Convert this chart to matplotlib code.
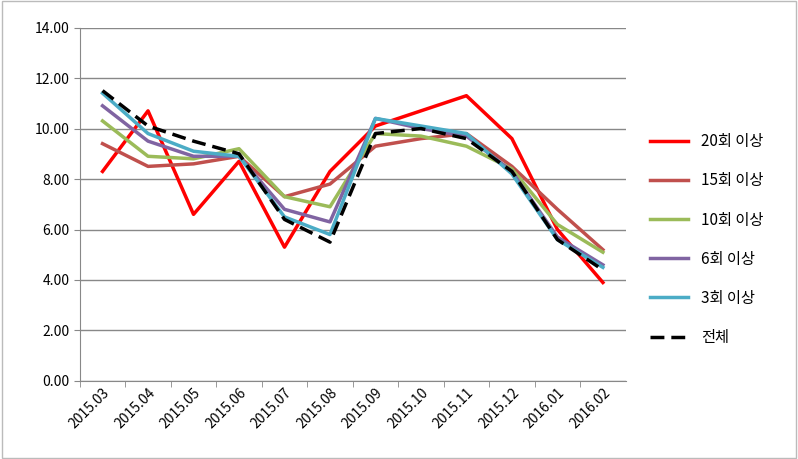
import matplotlib.pyplot as plt

plt.rcParams['font.family'] = ['Noto Sans CJK KR', 'DejaVu Sans']

months = ['2015.03', '2015.04', '2015.05', '2015.06', '2015.07', '2015.08',
          '2015.09', '2015.10', '2015.11', '2015.12', '2016.01', '2016.02']
s20 = [8.3, 10.7, 6.6, 8.7, 5.3, 8.3, 10.1, 10.7, 11.3, 9.6, 6.0, 3.9]
s15 = [9.4, 8.5, 8.6, 8.9, 7.3, 7.8, 9.3, 9.6, 9.8, 8.5, 6.8, 5.2]
s10 = [10.3, 8.9, 8.8, 9.2, 7.3, 6.9, 9.8, 9.7, 9.3, 8.4, 6.2, 5.1]
s6 = [10.9, 9.5, 8.9, 8.9, 6.8, 6.3, 10.4, 10.0, 9.7, 8.3, 5.7, 4.6]
s3 = [11.4, 9.8, 9.1, 8.9, 6.5, 5.8, 10.4, 10.1, 9.8, 8.2, 5.6, 4.5]
total = [11.5, 10.1, 9.5, 9.0, 6.4, 5.5, 9.8, 10.0, 9.6, 8.3, 5.6, 4.4]

fig = plt.figure(figsize=(7.98, 4.59), dpi=100)
ax = fig.add_axes([0.1, 0.17, 0.684, 0.77])

x = range(len(months))
ax.plot(x, s20, color='#ff0000', lw=2.5, label='20회 이상')
ax.plot(x, s15, color='#c0504d', lw=2.5, label='15회 이상')
ax.plot(x, s10, color='#9bbb59', lw=2.5, label='10회 이상')
ax.plot(x, s6, color='#8064a2', lw=2.5, label='6회 이상')
ax.plot(x, s3, color='#4bacc6', lw=2.5, label='3회 이상')
ax.plot(x, total, color='black', lw=2.5, ls=(0, (4, 2)), label='전체')

ax.set_xlim(-0.5, len(months) - 0.5)
ax.set_ylim(0, 14)
ax.set_yticks(range(0, 15, 2))
ax.set_yticklabels([f'{v:.2f}' for v in range(0, 15, 2)], fontsize=10)
ax.set_xticks([i - 0.5 for i in x], minor=True)
ax.set_xticks(list(x))
ax.set_xticklabels(months, rotation=45, ha='right', rotation_mode='anchor', fontsize=10)
ax.tick_params(axis='x', which='major', length=0)
ax.tick_params(axis='x', which='minor', length=4, color='#888888')
ax.tick_params(axis='y', length=4, color='#888888')
ax.grid(axis='y', color='#888888', lw=1)
ax.set_axisbelow(True)
for side in ['top', 'right']:
    ax.spines[side].set_visible(False)
for side in ['left', 'bottom']:
    ax.spines[side].set_color('#888888')

ax.legend(loc='center left', bbox_to_anchor=(1.02, 0.40), frameon=False,
          fontsize=11, handlelength=2.5, labelspacing=1.45)

fig.patches.append(plt.Rectangle((0.002, 0.002), 0.996, 0.996, transform=fig.transFigure,
                                 fill=False, edgecolor='#bbbbbb', lw=1))
fig.savefig('out.png')
